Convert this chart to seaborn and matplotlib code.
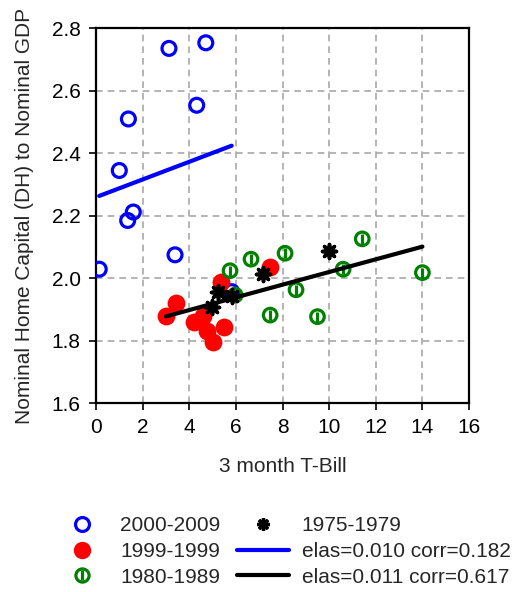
import numpy as np
import pandas as pd
import matplotlib
matplotlib.use("Agg")
import matplotlib.pyplot as plt
import seaborn as sns
from matplotlib.lines import Line2D

# values
tbill_2000s = [0.14, 1.00, 1.39, 1.60, 1.36, 3.13, 4.71, 4.32, 3.39, 5.82]
dh_2000s = [2.029, 2.345, 2.510, 2.212, 2.185, 2.736, 2.754, 2.554, 2.075, 1.957]

tbill_1990s = [3.00, 3.42, 4.22, 4.61, 4.75, 5.03, 5.48, 5.36, 7.47]
dh_1990s = [1.880, 1.920, 1.859, 1.879, 1.831, 1.795, 1.845, 1.987, 2.037]

tbill_1980s = [5.75, 5.97, 6.65, 8.11, 8.58, 7.47, 9.50, 10.60, 11.42, 14.00]
dh_1980s = [2.024, 1.946, 2.061, 2.080, 1.963, 1.882, 1.877, 2.029, 2.126, 2.018]

tbill_1970s = [4.96, 5.24, 5.82, 7.15, 10.01]
dh_1970s = [1.907, 1.957, 1.943, 2.013, 2.088]

labels = ["2000-2009", "1999-1999", "1980-1989", "1975-1979"]
fit_labels = ["elas=0.010 corr=0.182", "elas=0.011 corr=0.617"]

d2000 = pd.DataFrame({"tbill": tbill_2000s, "dh": dh_2000s})
d1990 = pd.DataFrame({"tbill": tbill_1990s, "dh": dh_1990s})
d1980 = pd.DataFrame({"tbill": tbill_1980s, "dh": dh_1980s})
d1970 = pd.DataFrame({"tbill": tbill_1970s, "dh": dh_1970s})
early = pd.concat([d1990, d1980, d1970], ignore_index=True)

sns.set_style("white")
plt.rcParams['font.family'] = ['Liberation Sans', 'DejaVu Sans']

fig = plt.figure(figsize=(5.16, 5.92), dpi=100)
ax = fig.add_axes([0.186, 0.319, 0.723, 0.633])

blue, red, green = "#0000ff", "#ff0000", "#008000"

sns.scatterplot(data=d2000, x="tbill", y="dh", ax=ax, marker="o", s=100,
                facecolor="none", edgecolor=blue, linewidth=2.3, zorder=3)
sns.scatterplot(data=d1990, x="tbill", y="dh", ax=ax, marker="o", s=165,
                color=red, edgecolor=red, linewidth=0, zorder=4)
sns.scatterplot(data=d1980, x="tbill", y="dh", ax=ax, marker="o", s=95,
                facecolor="none", edgecolor=green, linewidth=2.3, zorder=5)
sns.scatterplot(data=d1980, x="tbill", y="dh", ax=ax, marker="|", s=45,
                color=green, linewidth=2.3, zorder=5)
sns.scatterplot(data=d1970, x="tbill", y="dh", ax=ax, marker=(8, 2, 0), s=100,
                color="black", edgecolor="black", linewidth=2.6, zorder=6)

sns.regplot(data=d2000, x="tbill", y="dh", ax=ax, scatter=False, ci=None,
            line_kws=dict(color=blue, lw=3.0, zorder=7))
sns.regplot(data=early, x="tbill", y="dh", ax=ax, scatter=False, ci=None,
            line_kws=dict(color="black", lw=3.0, zorder=7))

ax.set_xlim(0, 16)
ax.set_ylim(1.6, 2.8)
ax.set_xticks(np.arange(0, 17, 2))
ax.set_yticks(np.arange(1.6, 2.81, 0.2))
ax.set_yticklabels([f"{v:.1f}" for v in np.arange(1.6, 2.81, 0.2)])
ax.grid(True, color="#a8a8a8", linestyle=(0, (4, 3)), linewidth=1.2)
ax.set_axisbelow(True)
for sp in ax.spines.values():
    sp.set_color("black")
    sp.set_linewidth(1.6)
ax.tick_params(axis="both", direction="out", length=5, width=1.2,
               colors="black", labelsize=15, left=True, bottom=True, pad=6)
ax.set_xlabel("3 month T-Bill", fontsize=15, labelpad=14)
ax.set_ylabel("Nominal Home Capital (DH) to Nominal GDP", fontsize=15, labelpad=13)

# legend
h_blue = Line2D([], [], ls="none", marker="o", ms=10, mfc="none", mec=blue, mew=2.3)
h_red = Line2D([], [], ls="none", marker="o", ms=12.5, mfc=red, mec=red, mew=0)
h_green_c = Line2D([], [], ls="none", marker="o", ms=9.5, mfc="none", mec=green, mew=2.3)
h_green_b = Line2D([], [], ls="none", marker="|", ms=6.5, mec=green, mew=2.3)
h_star = Line2D([], [], ls="none", marker=(8, 2, 0), ms=9, mec="black", mew=2.4)
h_lb = Line2D([], [], color=blue, lw=3.0)
h_lk = Line2D([], [], color="black", lw=3.0)
fig.legend([h_blue, h_red, (h_green_c, h_green_b), h_star, h_lb, h_lk],
           labels + fit_labels, ncol=2, frameon=False, fontsize=15,
           loc="upper left", bbox_to_anchor=(0.108, 0.128), borderaxespad=0,
           borderpad=0, handlelength=2.5, handletextpad=0.6, columnspacing=0.8,
           labelspacing=0.32)

fig.savefig("out.png", dpi=100)
